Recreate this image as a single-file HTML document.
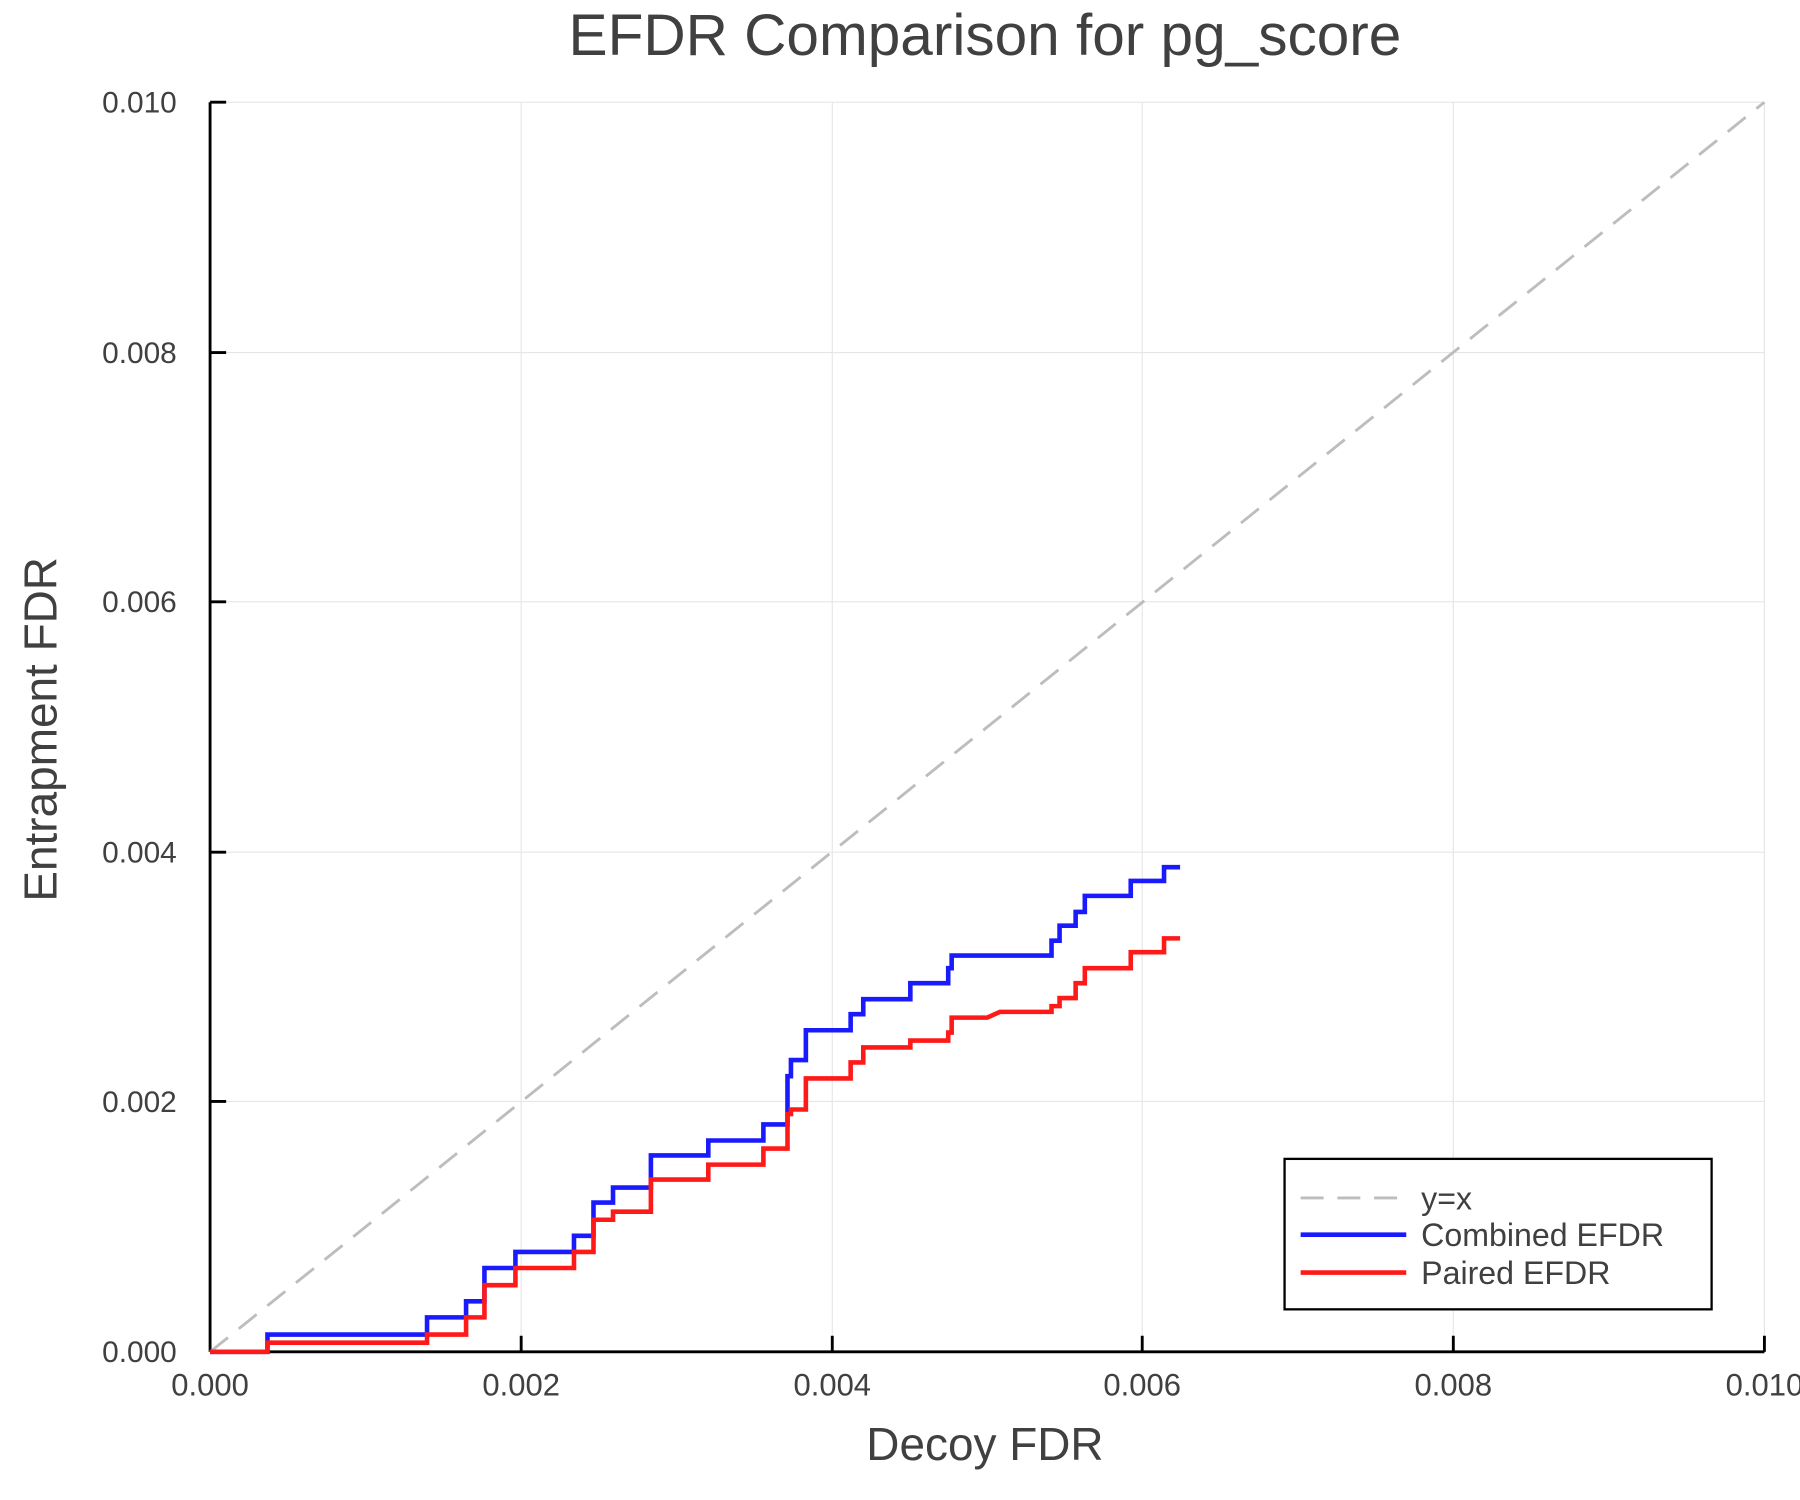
<!DOCTYPE html>
<html><head><style>html,body{margin:0;padding:0;background:#fff}svg{display:block}</style></head>
<body>
<svg width="1800" height="1500" viewBox="0 0 1568 1306" preserveAspectRatio="none" xmlns="http://www.w3.org/2000/svg" font-family="Liberation Sans, sans-serif">
<rect width="1568" height="1306" fill="#fff"/>
<g stroke="#e6e6e6" stroke-width="1">
<line x1="454" y1="89" x2="454" y2="1177"/><line x1="725" y1="89" x2="725" y2="1177"/><line x1="995" y1="89" x2="995" y2="1177"/><line x1="1266" y1="89" x2="1266" y2="1177"/><line x1="1537" y1="89" x2="1537" y2="1177"/>
<line x1="183" y1="959" x2="1537" y2="959"/><line x1="183" y1="742" x2="1537" y2="742"/><line x1="183" y1="524" x2="1537" y2="524"/><line x1="183" y1="307" x2="1537" y2="307"/><line x1="183" y1="89" x2="1537" y2="89"/>
</g>
<g stroke="#000" stroke-width="2.5">
<line x1="183" y1="89" x2="183" y2="1177"/><line x1="183" y1="1177" x2="1537" y2="1177"/>
<line x1="454" y1="1177" x2="454" y2="1163"/><line x1="725" y1="1177" x2="725" y2="1163"/><line x1="995" y1="1177" x2="995" y2="1163"/><line x1="1266" y1="1177" x2="1266" y2="1163"/><line x1="1537" y1="1177" x2="1537" y2="1163"/>
<line x1="183" y1="959" x2="197" y2="959"/><line x1="183" y1="742" x2="197" y2="742"/><line x1="183" y1="524" x2="197" y2="524"/><line x1="183" y1="307" x2="197" y2="307"/><line x1="183" y1="89" x2="197" y2="89"/>
</g>
<g fill="#404040" font-size="27" text-anchor="middle">
<text x="183" y="1215">0.000</text><text x="454" y="1215">0.002</text><text x="725" y="1215">0.004</text><text x="995" y="1215">0.006</text><text x="1266" y="1215">0.008</text><text x="1537" y="1215">0.010</text>
</g>
<g fill="#404040" font-size="26" text-anchor="end">
<text x="154" y="1186">0.000</text><text x="154" y="968">0.002</text><text x="154" y="751">0.004</text><text x="154" y="533">0.006</text><text x="154" y="316">0.008</text><text x="154" y="98">0.010</text>
</g>
<text x="858" y="48" font-size="51" fill="#404040" text-anchor="middle">EFDR Comparison for pg_score</text>
<text x="858" y="1271" font-size="40" fill="#404040" text-anchor="middle">Decoy FDR</text>
<text transform="translate(49,635) rotate(-90)" font-size="40" fill="#404040" text-anchor="middle">Entrapment FDR</text>
<line x1="183" y1="1177" x2="1537" y2="89" stroke="#bdbdbd" stroke-width="2.5" stroke-dasharray="20,12"/>
<polyline fill="none" stroke="#1a1aff" stroke-width="4" points="183,1177 233,1177 233,1162 372,1162 372,1147 406,1147 406,1133 422,1133 422,1104 449,1104 449,1090 500,1090 500,1076 517,1076 517,1047 534,1047 534,1034 567,1034 567,1006 617,1006 617,993 665,993 665,979 686,979 686,937 689,937 689,923 702,923 702,897 741,897 741,883 752,883 752,870 793,870 793,856 826,856 826,843 829,843 829,832 916,832 916,819 923,819 923,806 937,806 937,794 945,794 945,780 985,780 985,767 1014,767 1014,755 1028,755"/>
<polyline fill="none" stroke="#ff1a1a" stroke-width="4" points="183,1177 233,1177 233,1169 372,1169 372,1162 406,1162 406,1147 422,1147 422,1119 449,1119 449,1104 500,1104 500,1090 517,1090 517,1062 534,1062 534,1055 567,1055 567,1027 617,1027 617,1014 665,1014 665,1000 686,1000 686,970 689,970 689,966 702,966 702,939 741,939 741,925 752,925 752,912 793,912 793,906 826,906 826,899 829,899 829,886 860,886 871,881 916,881 916,876 923,876 923,869 937,869 937,856 945,856 945,843 985,843 985,829 1014,829 1014,817 1028,817"/>
<rect x="1119" y="1009" width="372" height="131" fill="#fff" stroke="#000" stroke-width="2"/>
<line x1="1133" y1="1043" x2="1225" y2="1043" stroke="#bdbdbd" stroke-width="2.5" stroke-dasharray="20,12"/>
<line x1="1133" y1="1075" x2="1225" y2="1075" stroke="#1a1aff" stroke-width="4"/>
<line x1="1133" y1="1108" x2="1225" y2="1108" stroke="#ff1a1a" stroke-width="4"/>
<g fill="#404040" font-size="28">
<text x="1238" y="1053">y=x</text><text x="1238" y="1085">Combined EFDR</text><text x="1238" y="1118">Paired EFDR</text>
</g>
</svg>
</body></html>
